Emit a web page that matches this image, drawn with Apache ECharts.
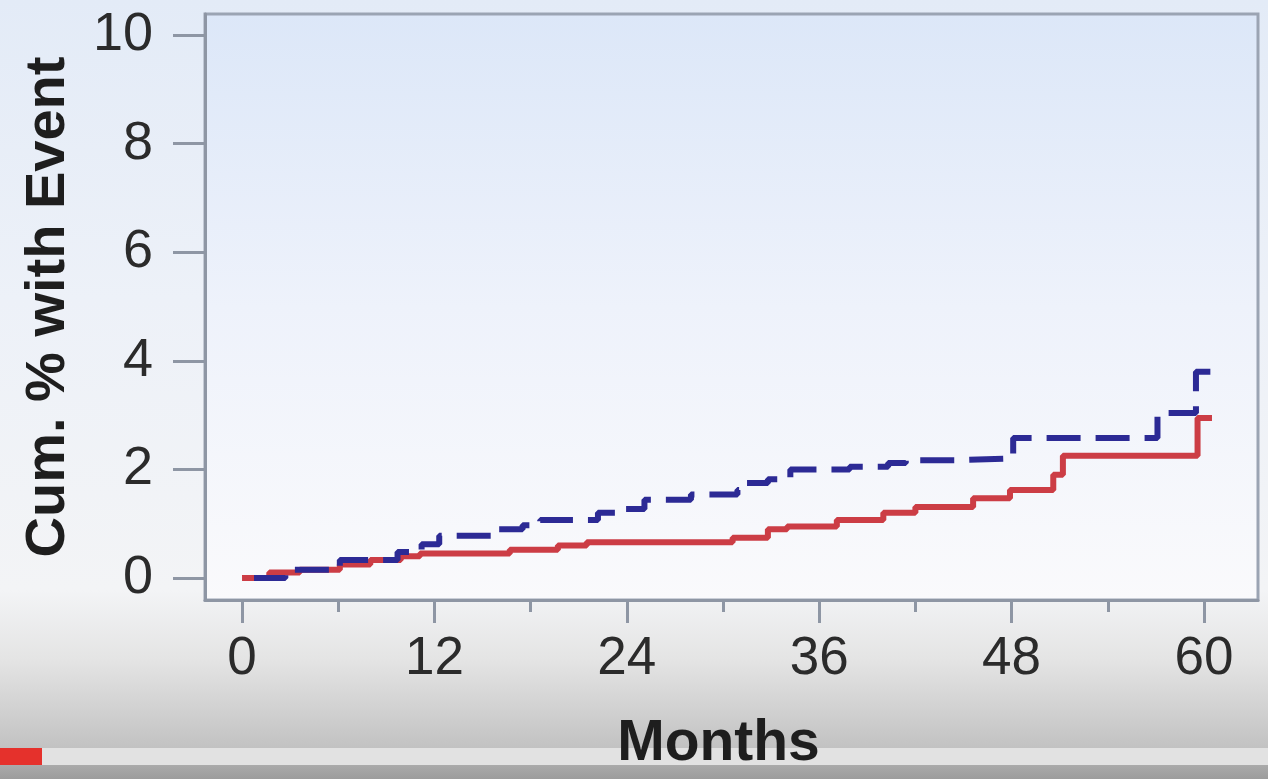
<!DOCTYPE html>
<html>
<head>
<meta charset="utf-8">
<title>Cumulative % with Event</title>
<script src="https://cdn.jsdelivr.net/npm/echarts@6/dist/echarts.min.js"></script>
<style>
  html, body { margin: 0; padding: 0; }
  #chart {
    width: 1268px; height: 779px;
    background: linear-gradient(to bottom, #e3ebf7 0px, #edf1f8 300px, #f3f4f6 590px, #e4e4e4 660px, #cdcdcd 720px, #c2c2c2 748px, #a9a9a9 766px, #9c9c9c 779px);
  }
</style>
</head>
<body>
<div id="chart"></div>
<script>
// Kaplan-Meier style cumulative incidence, two arms
const monthsRed = [0, 1.7, 3.6, 6.1, 8.0, 9.9, 11.1, 16.7, 19.7, 21.5, 30.6, 32.8, 34.0, 37.1, 40.0, 42.0, 45.6, 47.9, 50.6, 51.2, 59.6, 60.5];
const pctRed    = [0, 0.1, 0.15, 0.25, 0.33, 0.4, 0.45, 0.52, 0.6, 0.66, 0.74, 0.9, 0.95, 1.07, 1.2, 1.31, 1.47, 1.62, 1.9, 2.25, 2.95, 2.95];

const monthsBlue = [0, 2.7, 6.1, 9.7, 11.2, 12.3, 15.9, 17.5, 18.6, 22.2, 23.5, 25.1, 28.0, 30.9, 31.4, 32.8, 34.2, 37.9, 40.3, 41.4, 44.5, 48.1, 57.1, 59.5, 60.7];
const pctBlue    = [0, 0.15, 0.33, 0.48, 0.62, 0.78, 0.9, 0.97, 1.07, 1.2, 1.27, 1.44, 1.54, 1.62, 1.75, 1.82, 2.0, 2.05, 2.12, 2.17, 2.2, 2.58, 3.04, 3.8, 3.8];

// axis ticks
const xMajorTicks = [0, 12, 24, 36, 48, 60];
const xMinorTicks = [6, 18, 30, 42, 54];
const yTicks = [0, 2, 4, 6, 8, 10];

const pairs = (xs, ys) => xs.map((x, i) => [x, ys[i]]);

const chart = echarts.init(document.getElementById('chart'), null, { renderer: 'canvas' });

const textColor = '#2b2b2b';
const axisColor = '#8e96a4';

const option = {
  backgroundColor: 'transparent',
  animation: false,
  grid: {
    left: 205, right: 10, top: 14, bottom: 179,
    containLabel: false,
    outerBoundsMode: 'none',
    show: true,
    borderColor: '#9ba4b3',
    borderWidth: 3,
    backgroundColor: new echarts.graphic.LinearGradient(0, 0, 0, 1, [
      { offset: 0, color: '#dce7f8' },
      { offset: 0.5, color: '#eef2fb' },
      { offset: 1, color: '#fafafc' }
    ])
  },
  xAxis: [
    {
      type: 'value',
      min: -2.31, max: 63.37,
      name: 'Months',
      nameLocation: 'middle',
      nameGap: 116,
      nameTextStyle: { fontFamily: 'Liberation Sans', fontWeight: 'bold', fontSize: 57, color: '#1e1e1e', padding: [0, 26, 0, 0] },
      axisLine: { show: true, onZero: false, lineStyle: { color: axisColor, width: 3 } },
      axisTick: { show: true, customValues: xMajorTicks, length: 23, lineStyle: { color: axisColor, width: 3 } },
      axisLabel: { customValues: xMajorTicks, margin: 33, fontFamily: 'Liberation Sans', fontSize: 53, color: textColor },
      splitLine: { show: false }
    },
    {
      type: 'value',
      min: -2.31, max: 63.37,
      position: 'bottom',
      axisLine: { show: false, onZero: false },
      axisTick: { show: true, customValues: xMinorTicks, length: 12, lineStyle: { color: axisColor, width: 3 } },
      axisLabel: { show: false },
      splitLine: { show: false }
    }
  ],
  yAxis: {
    type: 'value',
    min: -0.405, max: 10.39,
    name: 'Cum. % with Event',
    nameLocation: 'middle',
    nameGap: 128,
    nameRotate: 90,
    nameTextStyle: { fontFamily: 'Liberation Sans', fontWeight: 'bold', fontSize: 56, color: '#1e1e1e' },
    axisLine: { show: true, onZero: false, lineStyle: { color: axisColor, width: 3 } },
    axisTick: { show: true, customValues: yTicks, length: 32, lineStyle: { color: axisColor, width: 3 } },
    axisLabel: { customValues: yTicks, margin: 52, fontFamily: 'Liberation Sans', fontSize: 54, color: textColor },
    splitLine: { show: false }
  },
  series: [
    {
      name: 'Solid arm',
      type: 'line',
      step: 'end',
      showSymbol: false,
      data: pairs(monthsRed, pctRed),
      lineStyle: { color: '#cc3d45', width: 6 },
      z: 3
    },
    {
      name: 'Dashed arm',
      type: 'line',
      step: 'end',
      showSymbol: false,
      data: pairs(monthsBlue, pctBlue),
      lineStyle: { color: '#2c2a95', width: 6, type: [34, 15], dashOffset: -12 },
      z: 4
    }
  ],
  graphic: [
    // player progress bar along the bottom edge
    { type: 'rect', left: 0, top: 748, z: -10, shape: { width: 1268, height: 17 }, style: { fill: '#e2e2e2' } },
    { type: 'rect', left: 0, top: 748, z: -9, shape: { width: 42, height: 17 }, style: { fill: '#e5312c' } }
  ]
};

chart.setOption(option);
</script>
</body>
</html>
